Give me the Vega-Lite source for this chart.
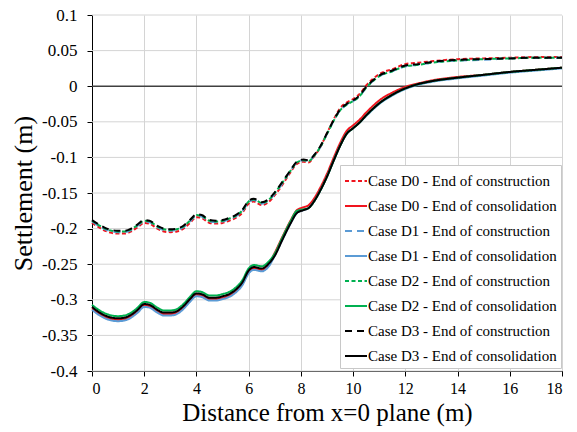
{
  "$schema": "https://vega.github.io/schema/vega-lite/v6.json",
  "width": 470,
  "height": 356,
  "autosize": "none",
  "padding": {"left": 92, "top": 15, "right": 15, "bottom": 61},
  "background": "white",
  "config": {
    "view": {"stroke": null},
    "legend": {"labelFont": "Liberation Serif", "labelFontSize": 15, "labelColor": "#000000", "labelLimit": 400}
  },
  "resolve": {"axis": {"y": "independent"}},
  "datasets": {
    "ygrid": [{"gy": -0.4}, {"gy": -0.35}, {"gy": -0.3}, {"gy": -0.25}, {"gy": -0.2}, {"gy": -0.15}, {"gy": -0.1}, {"gy": -0.05}, {"gy": 0.05}, {"gy": 0.1}],
    "zero": [{"z": 0}],
    "curves": [
      {"x":0,"D0c":-0.192,"D1c":-0.190,"D2c":-0.189,"D3c":-0.188,"D0s":-0.312,"D1s":-0.314,"D2s":-0.307,"D3s":-0.310},
      {"x":0.25,"D0c":-0.198,"D1c":-0.196,"D2c":-0.195,"D3c":-0.194,"D0s":-0.319,"D1s":-0.321,"D2s":-0.314,"D3s":-0.317},
      {"x":0.5,"D0c":-0.203,"D1c":-0.201,"D2c":-0.200,"D3c":-0.199,"D0s":-0.324,"D1s":-0.326,"D2s":-0.319,"D3s":-0.322},
      {"x":0.75,"D0c":-0.206,"D1c":-0.204,"D2c":-0.203,"D3c":-0.202,"D0s":-0.327,"D1s":-0.329,"D2s":-0.322,"D3s":-0.325},
      {"x":1.0,"D0c":-0.207,"D1c":-0.205,"D2c":-0.204,"D3c":-0.203,"D0s":-0.328,"D1s":-0.330,"D2s":-0.323,"D3s":-0.326},
      {"x":1.25,"D0c":-0.207,"D1c":-0.205,"D2c":-0.204,"D3c":-0.203,"D0s":-0.327,"D1s":-0.329,"D2s":-0.322,"D3s":-0.325},
      {"x":1.5,"D0c":-0.204,"D1c":-0.202,"D2c":-0.201,"D3c":-0.200,"D0s":-0.323,"D1s":-0.325,"D2s":-0.318,"D3s":-0.321},
      {"x":1.75,"D0c":-0.198,"D1c":-0.196,"D2c":-0.195,"D3c":-0.194,"D0s":-0.316,"D1s":-0.318,"D2s":-0.311,"D3s":-0.314},
      {"x":2.0,"D0c":-0.192,"D1c":-0.190,"D2c":-0.189,"D3c":-0.188,"D0s":-0.308,"D1s":-0.310,"D2s":-0.303,"D3s":-0.306},
      {"x":2.2,"D0c":-0.193,"D1c":-0.191,"D2c":-0.190,"D3c":-0.189,"D0s":-0.309,"D1s":-0.311,"D2s":-0.304,"D3s":-0.307},
      {"x":2.5,"D0c":-0.200,"D1c":-0.198,"D2c":-0.197,"D3c":-0.196,"D0s":-0.316,"D1s":-0.318,"D2s":-0.311,"D3s":-0.314},
      {"x":2.75,"D0c":-0.204,"D1c":-0.202,"D2c":-0.201,"D3c":-0.200,"D0s":-0.320,"D1s":-0.322,"D2s":-0.315,"D3s":-0.318},
      {"x":3.0,"D0c":-0.205,"D1c":-0.203,"D2c":-0.202,"D3c":-0.201,"D0s":-0.320,"D1s":-0.322,"D2s":-0.315,"D3s":-0.318},
      {"x":3.25,"D0c":-0.204,"D1c":-0.202,"D2c":-0.201,"D3c":-0.200,"D0s":-0.318,"D1s":-0.320,"D2s":-0.313,"D3s":-0.316},
      {"x":3.5,"D0c":-0.200,"D1c":-0.198,"D2c":-0.197,"D3c":-0.196,"D0s":-0.311,"D1s":-0.313,"D2s":-0.306,"D3s":-0.309},
      {"x":3.75,"D0c":-0.192,"D1c":-0.190,"D2c":-0.189,"D3c":-0.188,"D0s":-0.301,"D1s":-0.303,"D2s":-0.296,"D3s":-0.299},
      {"x":4.0,"D0c":-0.184,"D1c":-0.182,"D2c":-0.181,"D3c":-0.180,"D0s":-0.293,"D1s":-0.295,"D2s":-0.288,"D3s":-0.291},
      {"x":4.2,"D0c":-0.185,"D1c":-0.183,"D2c":-0.182,"D3c":-0.181,"D0s":-0.294,"D1s":-0.296,"D2s":-0.289,"D3s":-0.292},
      {"x":4.5,"D0c":-0.192,"D1c":-0.190,"D2c":-0.189,"D3c":-0.188,"D0s":-0.299,"D1s":-0.301,"D2s":-0.294,"D3s":-0.297},
      {"x":4.75,"D0c":-0.193,"D1c":-0.191,"D2c":-0.190,"D3c":-0.189,"D0s":-0.299,"D1s":-0.301,"D2s":-0.294,"D3s":-0.297},
      {"x":5.0,"D0c":-0.192,"D1c":-0.190,"D2c":-0.189,"D3c":-0.188,"D0s":-0.297,"D1s":-0.299,"D2s":-0.292,"D3s":-0.295},
      {"x":5.25,"D0c":-0.189,"D1c":-0.187,"D2c":-0.186,"D3c":-0.185,"D0s":-0.294,"D1s":-0.296,"D2s":-0.289,"D3s":-0.292},
      {"x":5.5,"D0c":-0.185,"D1c":-0.183,"D2c":-0.182,"D3c":-0.181,"D0s":-0.288,"D1s":-0.290,"D2s":-0.283,"D3s":-0.286},
      {"x":5.75,"D0c":-0.178,"D1c":-0.176,"D2c":-0.175,"D3c":-0.174,"D0s":-0.278,"D1s":-0.280,"D2s":-0.273,"D3s":-0.276},
      {"x":6.0,"D0c":-0.165,"D1c":-0.163,"D2c":-0.162,"D3c":-0.161,"D0s":-0.261,"D1s":-0.263,"D2s":-0.256,"D3s":-0.259},
      {"x":6.2,"D0c":-0.162,"D1c":-0.160,"D2c":-0.159,"D3c":-0.158,"D0s":-0.256,"D1s":-0.258,"D2s":-0.251,"D3s":-0.254},
      {"x":6.5,"D0c":-0.167,"D1c":-0.165,"D2c":-0.164,"D3c":-0.163,"D0s":-0.258,"D1s":-0.260,"D2s":-0.253,"D3s":-0.256},
      {"x":6.75,"D0c":-0.163,"D1c":-0.161,"D2c":-0.160,"D3c":-0.159,"D0s":-0.252,"D1s":-0.254,"D2s":-0.247,"D3s":-0.250},
      {"x":7.0,"D0c":-0.153,"D1c":-0.151,"D2c":-0.150,"D3c":-0.149,"D0s":-0.234,"D1s":-0.238,"D2s":-0.235,"D3s":-0.238},
      {"x":7.3,"D0c":-0.138,"D1c":-0.136,"D2c":-0.135,"D3c":-0.134,"D0s":-0.211,"D1s":-0.215,"D2s":-0.212,"D3s":-0.215},
      {"x":7.6,"D0c":-0.121,"D1c":-0.119,"D2c":-0.119,"D3c":-0.118,"D0s":-0.189,"D1s":-0.193,"D2s":-0.190,"D3s":-0.193},
      {"x":7.85,"D0c":-0.109,"D1c":-0.107,"D2c":-0.107,"D3c":-0.106,"D0s":-0.174,"D1s":-0.178,"D2s":-0.175,"D3s":-0.178},
      {"x":8.1,"D0c":-0.106,"D1c":-0.104,"D2c":-0.104,"D3c":-0.103,"D0s":-0.170,"D1s":-0.174,"D2s":-0.173,"D3s":-0.174},
      {"x":8.3,"D0c":-0.107,"D1c":-0.105,"D2c":-0.105,"D3c":-0.104,"D0s":-0.167,"D1s":-0.171,"D2s":-0.171,"D3s":-0.171},
      {"x":8.5,"D0c":-0.099,"D1c":-0.098,"D2c":-0.098,"D3c":-0.097,"D0s":-0.158,"D1s":-0.162,"D2s":-0.162,"D3s":-0.162},
      {"x":8.75,"D0c":-0.085,"D1c":-0.085,"D2c":-0.085,"D3c":-0.084,"D0s":-0.142,"D1s":-0.146,"D2s":-0.146,"D3s":-0.146},
      {"x":9.0,"D0c":-0.066,"D1c":-0.067,"D2c":-0.067,"D3c":-0.066,"D0s":-0.123,"D1s":-0.127,"D2s":-0.127,"D3s":-0.127},
      {"x":9.25,"D0c":-0.047,"D1c":-0.049,"D2c":-0.049,"D3c":-0.048,"D0s":-0.101,"D1s":-0.105,"D2s":-0.105,"D3s":-0.105},
      {"x":9.5,"D0c":-0.031,"D1c":-0.034,"D2c":-0.034,"D3c":-0.033,"D0s":-0.080,"D1s":-0.084,"D2s":-0.084,"D3s":-0.084},
      {"x":9.75,"D0c":-0.023,"D1c":-0.026,"D2c":-0.026,"D3c":-0.025,"D0s":-0.063,"D1s":-0.067,"D2s":-0.067,"D3s":-0.067},
      {"x":10.0,"D0c":-0.018,"D1c":-0.021,"D2c":-0.021,"D3c":-0.020,"D0s":-0.055,"D1s":-0.059,"D2s":-0.059,"D3s":-0.059},
      {"x":10.25,"D0c":-0.011,"D1c":-0.014,"D2c":-0.014,"D3c":-0.013,"D0s":-0.047,"D1s":-0.051,"D2s":-0.051,"D3s":-0.051},
      {"x":10.5,"D0c":0.001,"D1c":-0.002,"D2c":-0.002,"D3c":-0.001,"D0s":-0.037,"D1s":-0.042,"D2s":-0.041,"D3s":-0.041},
      {"x":10.75,"D0c":0.010,"D1c":0.007,"D2c":0.007,"D3c":0.008,"D0s":-0.028,"D1s":-0.033,"D2s":-0.032,"D3s":-0.032},
      {"x":11.0,"D0c":0.017,"D1c":0.014,"D2c":0.014,"D3c":0.015,"D0s":-0.020,"D1s":-0.025,"D2s":-0.024,"D3s":-0.024},
      {"x":11.5,"D0c":0.024,"D1c":0.021,"D2c":0.021,"D3c":0.022,"D0s":-0.009,"D1s":-0.013,"D2s":-0.012,"D3s":-0.012},
      {"x":12.0,"D0c":0.031,"D1c":0.028,"D2c":0.028,"D3c":0.029,"D0s":-0.001,"D1s":-0.004,"D2s":-0.003,"D3s":-0.003},
      {"x":12.5,"D0c":0.033,"D1c":0.030,"D2c":0.030,"D3c":0.031,"D0s":0.004,"D1s":0.002,"D2s":0.003,"D3s":0.003},
      {"x":13.0,"D0c":0.035,"D1c":0.033,"D2c":0.033,"D3c":0.034,"D0s":0.008,"D1s":0.006,"D2s":0.007,"D3s":0.007},
      {"x":14.0,"D0c":0.038,"D1c":0.036,"D2c":0.036,"D3c":0.037,"D0s":0.013,"D1s":0.011,"D2s":0.012,"D3s":0.012},
      {"x":15.0,"D0c":0.039,"D1c":0.037,"D2c":0.038,"D3c":0.038,"D0s":0.016,"D1s":0.015,"D2s":0.016,"D3s":0.016},
      {"x":16.0,"D0c":0.040,"D1c":0.039,"D2c":0.039,"D3c":0.039,"D0s":0.020,"D1s":0.019,"D2s":0.020,"D3s":0.020},
      {"x":17.0,"D0c":0.041,"D1c":0.040,"D2c":0.040,"D3c":0.040,"D0s":0.023,"D1s":0.022,"D2s":0.023,"D3s":0.023},
      {"x":18.0,"D0c":0.041,"D1c":0.040,"D2c":0.040,"D3c":0.040,"D0s":0.026,"D1s":0.025,"D2s":0.026,"D3s":0.026}
    ]
  },
  "layer": [
    {
      "data": {"name": "ygrid"},
      "mark": {"type": "rule", "color": "#d4d4d4", "strokeWidth": 1},
      "encoding": {
        "y": {"field": "gy", "type": "quantitative", "scale": {"domain": [-0.4, 0.1], "nice": false, "zero": false}, "axis": null}
      }
    },
    {
      "data": {"name": "zero"},
      "mark": {"type": "rule", "color": "#404040", "strokeWidth": 1.5},
      "encoding": {
        "y": {"field": "z", "type": "quantitative", "scale": {"domain": [-0.4, 0.1], "nice": false, "zero": false}, "axis": null}
      }
    },
    {
      "data": {"name": "curves"},
      "transform": [
        {"fold": ["D0c", "D0s", "D1c", "D1s", "D2c", "D2s", "D3c", "D3s"], "as": ["series", "value"]}
      ],
      "mark": {"type": "line", "interpolate": "monotone", "strokeWidth": 2},
      "encoding": {
        "x": {
          "field": "x", "type": "quantitative",
          "scale": {"domain": [0, 18], "nice": false, "zero": false},
          "axis": {"values": [0, 2, 4, 6, 8, 10, 12, 14, 16, 18], "grid": true, "gridColor": "#d4d4d4",
                   "domainColor": "#000000", "tickColor": "#000000", "tickSize": 5,
                   "labelFont": "Liberation Serif", "labelFontSize": 16, "labelColor": "#000000",
                   "titleFont": "Liberation Serif", "titleFontSize": 25, "titleFontWeight": "normal", "titleColor": "#000000",
                   "title": "Distance from x=0 plane (m)", "labelPadding": 4, "titlePadding": 4}
        },
        "y": {
          "field": "value", "type": "quantitative",
          "scale": {"domain": [-0.4, 0.1], "nice": false, "zero": false},
          "axis": {
            "values": [-0.4, -0.35, -0.3, -0.25, -0.2, -0.15, -0.1, -0.05, 0, 0.05, 0.1],
            "grid": false,
            "domainColor": "#000000", "tickColor": "#000000", "tickSize": 5,
            "labelFont": "Liberation Serif", "labelFontSize": 17, "labelColor": "#000000",
            "titleFont": "Liberation Serif", "titleFontSize": 26, "titleFontWeight": "normal", "titleColor": "#000000",
            "labelExpr": "replace(format(datum.value, '.2~f'), '\u2212', '-')",
            "title": "Settlement (m)", "labelPadding": 10, "titlePadding": 5
          }
        },
        "color": {
          "field": "series", "type": "nominal",
          "scale": {
            "domain": ["D0c", "D0s", "D1c", "D1s", "D2c", "D2s", "D3c", "D3s"],
            "range": ["#f0141e", "#f0141e", "#5b9bd5", "#5b9bd5", "#00b050", "#00b050", "#000000", "#000000"]
          },
          "legend": {
            "title": null,
            "orient": "none", "legendX": 248, "legendY": 150,
            "fillColor": "#ffffff", "strokeColor": "#c8c8c8", "padding": 4,
            "symbolType": "stroke", "symbolSize": 484, "symbolStrokeWidth": 2,
            "rowPadding": 5, "labelOffset": 0, "labelLimit": 400,
            "labelFont": "Liberation Serif", "labelFontSize": 15,
            "labelExpr": "'Case ' + slice(datum.label, 0, 2) + (slice(datum.label, 2) == 'c' ? ' - End of construction' : ' - End of consolidation')"
          }
        },
        "strokeDash": {
          "field": "series", "type": "nominal",
          "scale": {
            "domain": ["D0c", "D0s", "D1c", "D1s", "D2c", "D2s", "D3c", "D3s"],
            "range": [[4, 2.5], [1, 0], [7, 5], [1, 0], [4, 2.5], [1, 0], [7, 5], [1, 0]]
          },
          "legend": {
            "title": null,
            "orient": "none", "legendX": 248, "legendY": 150,
            "fillColor": "#ffffff", "strokeColor": "#c8c8c8", "padding": 4,
            "symbolType": "stroke", "symbolSize": 484, "symbolStrokeWidth": 2,
            "rowPadding": 5, "labelOffset": 0, "labelLimit": 400,
            "labelFont": "Liberation Serif", "labelFontSize": 15,
            "labelExpr": "'Case ' + slice(datum.label, 0, 2) + (slice(datum.label, 2) == 'c' ? ' - End of construction' : ' - End of consolidation')"
          }
        },
        "order": {"field": "series"}
      }
    }
  ]
}
